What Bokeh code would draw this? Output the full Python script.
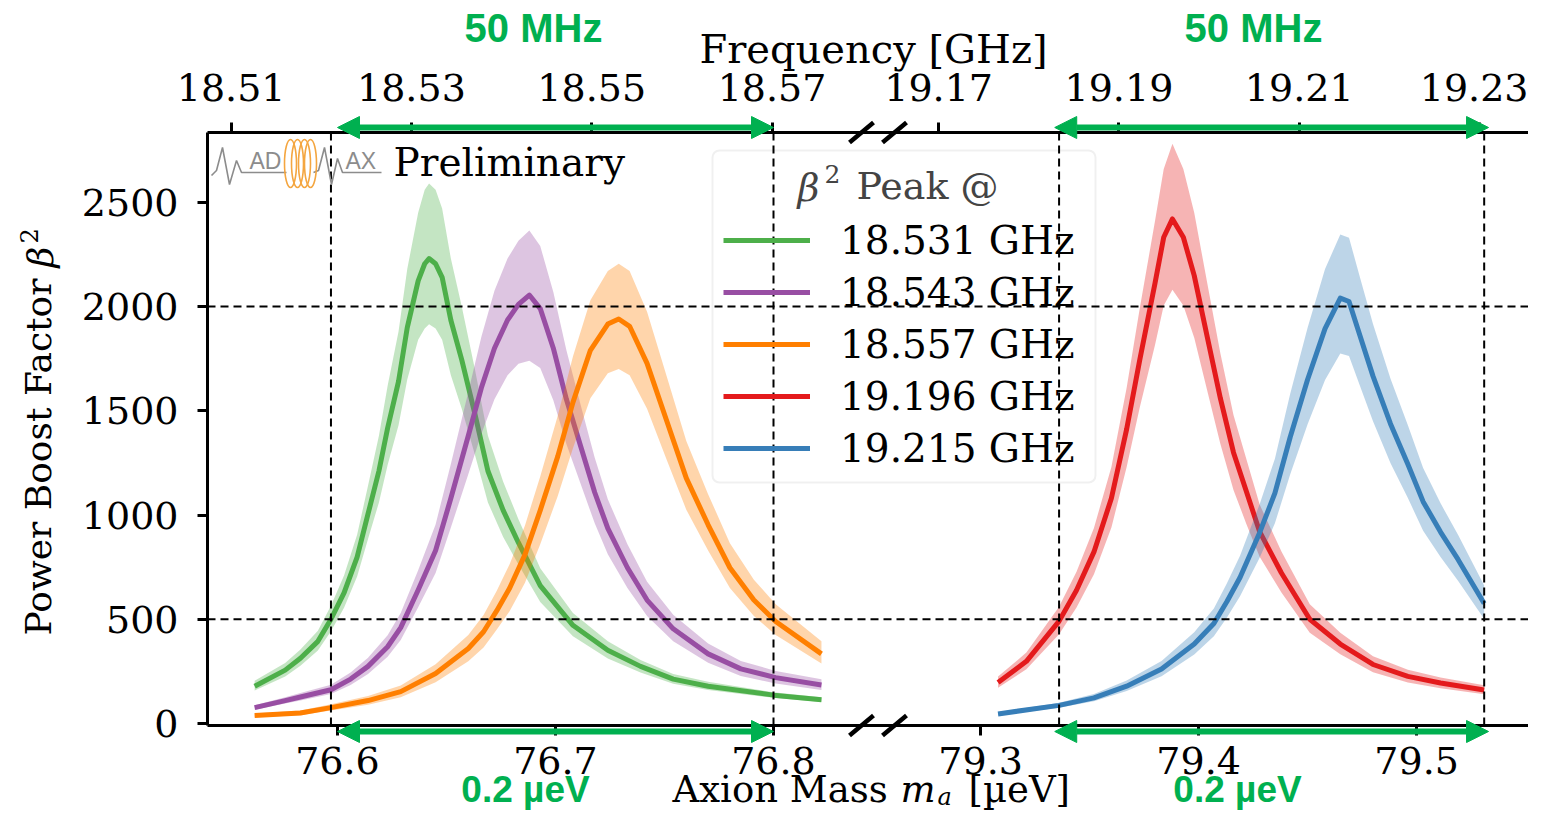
import math
from bokeh.plotting import figure
from bokeh.models import (Range1d, LinearAxis, FixedTicker, Arrow, NormalHead,
                          Label, Legend, LegendItem, BoxAnnotation)
from bokeh.embed import file_html
from bokeh.resources import INLINE

# ------------------------------------------------------------------ data
LABELS = ["18.531 GHz", "18.543 GHz", "18.557 GHz", "19.196 GHz", "19.215 GHz"]
COLORS = ["#4daf4a", "#984ea3", "#ff7f00", "#e41a1c", "#377eb8"]

GREEN_M = [76.562, 76.576, 76.583, 76.591, 76.597, 76.603, 76.609, 76.614, 76.619, 76.623,
           76.628, 76.632, 76.637, 76.640, 76.642, 76.645, 76.648, 76.652, 76.657, 76.663,
           76.669, 76.676, 76.683, 76.693, 76.708, 76.724, 76.739, 76.754, 76.770, 76.800,
           76.822]
GREEN_C = [179, 256, 313, 394, 500, 626, 798, 1005, 1211, 1417, 1641, 1899, 2123, 2205, 2230,
           2205, 2140, 1934, 1744, 1486, 1211, 1022, 867, 661, 471, 351, 274, 213, 179, 136,
           114]
GREEN_U = [205, 290, 355, 445, 565, 710, 905, 1140, 1380, 1620, 1880, 2180, 2450, 2560, 2590,
           2560, 2470, 2230, 2000, 1700, 1380, 1160, 980, 745, 530, 395, 305, 238, 200, 150,
           126]
GREEN_L = [158, 226, 277, 350, 443, 555, 705, 885, 1060, 1240, 1430, 1650, 1840, 1895, 1915,
           1895, 1840, 1670, 1510, 1290, 1060, 895, 762, 583, 418, 312, 245, 191, 161, 123,
           103]

PURPLE_M = [76.562, 76.576, 76.583, 76.597, 76.606, 76.614, 76.623, 76.629, 76.637, 76.645,
            76.652, 76.660, 76.666, 76.672, 76.678, 76.683, 76.688, 76.693, 76.699, 76.705,
            76.712, 76.718, 76.724, 76.733, 76.742, 76.754, 76.770, 76.785, 76.801, 76.822]
PURPLE_C = [76, 110, 127, 162, 213, 274, 368, 460, 640, 830, 1080, 1380, 1610, 1800, 1935,
            2010, 2055, 1990, 1800, 1555, 1314, 1108, 936, 747, 592, 454, 334, 262, 220, 185]
PURPLE_U = [88, 126, 146, 186, 245, 315, 423, 530, 735, 955, 1245, 1590, 1855, 2075, 2230,
            2315, 2365, 2290, 2070, 1790, 1510, 1275, 1075, 860, 680, 522, 384, 300, 252, 212]
PURPLE_L = [66, 96, 110, 141, 185, 238, 320, 400, 557, 722, 940, 1195, 1390, 1555, 1670,
            1725, 1740, 1705, 1550, 1340, 1135, 960, 812, 650, 515, 395, 291, 228, 192, 161]

ORANGE_M = [76.562, 76.583, 76.597, 76.614, 76.629, 76.645, 76.660, 76.667, 76.673, 76.679,
            76.686, 76.693, 76.701, 76.708, 76.716, 76.724, 76.729, 76.734, 76.742, 76.751,
            76.760, 76.770, 76.780, 76.791, 76.801, 76.822]
ORANGE_C = [38, 50, 76, 110, 153, 240, 360, 440, 540, 650, 810, 1022, 1280, 1540, 1790, 1916,
            1940, 1905, 1727, 1452, 1177, 953, 747, 592, 489, 334]
ORANGE_U = [48, 62, 92, 132, 182, 284, 425, 520, 635, 765, 950, 1185, 1475, 1760, 2030, 2170,
            2205, 2170, 1975, 1665, 1355, 1100, 865, 690, 572, 395]
ORANGE_L = [30, 40, 62, 90, 126, 198, 298, 365, 450, 540, 675, 860, 1090, 1320, 1560, 1680,
            1700, 1670, 1510, 1265, 1025, 830, 650, 515, 425, 288]

RED_M = [79.308, 79.321, 79.336, 79.344, 79.352, 79.360, 79.367, 79.373, 79.380, 79.384,
         79.388, 79.393, 79.398, 79.404, 79.410, 79.416, 79.422, 79.428, 79.438, 79.451,
         79.465, 79.480, 79.496, 79.511, 79.531]
RED_C = [197, 298, 491, 639, 823, 1080, 1412, 1743, 2111, 2332, 2420, 2332, 2148, 1853, 1559,
         1300, 1110, 920, 722, 500, 381, 283, 226, 194, 161]
RED_U = [225, 340, 560, 728, 938, 1230, 1610, 1990, 2410, 2660, 2780, 2660, 2450, 2110, 1775,
         1480, 1265, 1050, 825, 572, 435, 323, 258, 221, 184]
RED_L = [172, 260, 428, 556, 716, 940, 1230, 1515, 1815, 2005, 2080, 2005, 1850, 1595, 1340,
         1120, 955, 800, 628, 435, 332, 246, 197, 169, 140]

BLUE_M = [79.308, 79.336, 79.352, 79.367, 79.383, 79.398, 79.407, 79.413, 79.419, 79.428,
          79.435, 79.442, 79.450, 79.458, 79.465, 79.469, 79.474, 79.480, 79.488, 79.496,
          79.503, 79.511, 79.519, 79.531]
BLUE_C = [46, 87, 123, 179, 261, 381, 480, 585, 700, 915, 1105, 1373, 1650, 1894, 2040, 2024,
          1861, 1666, 1438, 1243, 1064, 918, 787, 576]
BLUE_U = [54, 100, 142, 206, 300, 438, 552, 673, 805, 1052, 1270, 1580, 1898, 2180, 2345, 2330,
          2140, 1916, 1655, 1430, 1225, 1056, 905, 662]
BLUE_L = [40, 76, 107, 156, 227, 331, 418, 508, 610, 795, 960, 1194, 1435, 1648, 1775, 1762,
          1620, 1450, 1250, 1081, 925, 798, 685, 501]

MASS_TICKS = [76.6, 76.7, 76.8, 79.3, 79.4, 79.5]
FREQ_TICKS = [18.51, 18.53, 18.55, 18.57, 19.17, 19.19, 19.21, 19.23]
Y_TICKS = [0, 500, 1000, 1500, 2000, 2500]
VLINES_M = [76.597, 76.800, 79.336, 79.531]
HLINES = [500, 2000]
ARROW_SPANS_M = [(76.600, 76.800), (79.334, 79.533)]

# ------------------------------------------------------------------ geometry helpers
GHZ_TO_UEV = 4.135667
BREAK_OFFSET = 2.405          # broken axis: right block shifted left


def to_u(m):
    return m - BREAK_OFFSET if m > 78 else m


W, H = 1528, 811
PXU = 2180.0
PXV = 0.2085
BOX_L, BOX_T, BOX_B = 207, 132, 725   # plot box (pixels)


def ux(px):
    return 76.6 + (px - 337) / PXU


def vy(py):
    return (723 - py) / PXV


p = figure(width=W, height=H, x_range=Range1d(ux(0), ux(W)), y_range=Range1d(vy(H), vy(0)),
           output_backend="svg", toolbar_location=None, tools="")
p.min_border_left = 0
p.min_border_right = 0
p.min_border_top = 0
p.min_border_bottom = 0
p.xgrid.visible = False
p.ygrid.visible = False
p.outline_line_color = None
p.background_fill_color = "white"
p.border_fill_color = "white"

SERIF = "DejaVu Serif"


def style_axis(ax, standoff):
    ax.axis_line_color = None
    ax.major_tick_line_width = 3
    ax.major_tick_line_color = "black"
    ax.major_tick_out = 10
    ax.major_tick_in = 0
    ax.minor_tick_out = 0
    ax.minor_tick_in = 0
    ax.major_label_text_font = SERIF
    ax.major_label_text_font_size = "38px"
    ax.major_label_text_color = "black"
    ax.major_label_standoff = standoff


bottom = p.xaxis[0]
bt = [to_u(m) for m in MASS_TICKS]
bottom.ticker = FixedTicker(ticks=bt, minor_ticks=[])
bottom.major_label_overrides = {u: f"{m:.1f}" for u, m in zip(bt, MASS_TICKS)}
bottom.fixed_location = vy(BOX_B)
style_axis(bottom, 11)

tt = [to_u(f * GHZ_TO_UEV) for f in FREQ_TICKS]
top = LinearAxis(ticker=FixedTicker(ticks=tt, minor_ticks=[]),
                 major_label_overrides={u: f"{f:.2f}" for u, f in zip(tt, FREQ_TICKS)},
                 fixed_location=vy(BOX_T))
style_axis(top, 22)
p.add_layout(top, "above")

left = p.yaxis[0]
left.ticker = FixedTicker(ticks=Y_TICKS, minor_ticks=[])
left.fixed_location = ux(BOX_L)
style_axis(left, 19)

# plot box lines (left, top, bottom)
p.segment(x0=[ux(BOX_L), ux(BOX_L), ux(BOX_L)], y0=[vy(BOX_B), vy(BOX_T), vy(BOX_B)],
          x1=[ux(BOX_L), ux(W), ux(W)], y1=[vy(BOX_T), vy(BOX_T), vy(BOX_B)],
          line_color="black", line_width=3)

# ------------------------------------------------------------------ legend frame (under everything)
box = BoxAnnotation(left=ux(712), right=ux(1095), top=vy(150), bottom=vy(482),
                    fill_color="white", fill_alpha=0.85, line_color="#cccccc",
                    line_width=2, border_radius=7, level="underlay")
p.add_layout(box)

# ------------------------------------------------------------------ curves
series = [
    (GREEN_M, GREEN_C, GREEN_U, GREEN_L),
    (PURPLE_M, PURPLE_C, PURPLE_U, PURPLE_L),
    (ORANGE_M, ORANGE_C, ORANGE_U, ORANGE_L),
    (RED_M, RED_C, RED_U, RED_L),
    (BLUE_M, BLUE_C, BLUE_U, BLUE_L),
]
items = []
for (M, C, U, L), col, lab in zip(series, COLORS, LABELS):
    xs = [to_u(m) for m in M]
    p.varea(x=xs, y1=L, y2=U, fill_color=col, fill_alpha=0.33)
    r = p.line(xs, C, line_color=col, line_width=5, line_join="round")
    items.append(LegendItem(label=lab, renderers=[r]))

# ------------------------------------------------------------------ dashed guide lines
vx = [to_u(m) for m in VLINES_M]
p.segment(x0=vx, y0=[vy(BOX_B)] * len(vx), x1=vx, y1=[vy(BOX_T)] * len(vx),
          line_color="black", line_width=2, line_dash="8 5")
p.segment(x0=[ux(BOX_L)] * len(HLINES), y0=HLINES, x1=[ux(W)] * len(HLINES), y1=HLINES,
          line_color="black", line_width=2, line_dash="8 5")

# ------------------------------------------------------------------ logo (decoration)
GRAY = "#8c8c8c"
wave_l = [(211, 175), (216, 170), (222, 147), (229, 184), (236, 160), (241, 172), (286, 172)]
wave_r = [(313, 172), (318, 170), (324, 147), (331, 184), (337, 158), (342, 172), (381, 172)]
for wv in (wave_l, wave_r):
    p.line([ux(a) for a, b in wv], [vy(b) for a, b in wv], line_color=GRAY, line_width=1.6)
p.ellipse(x=[ux(c) for c in (290, 297, 304, 310)], y=[vy(163)] * 4,
          width=12, height=48, width_units="screen", height_units="screen",
          fill_alpha=0, line_color="#f4a640", line_width=1.6)
for txt, xx in (("AD", 249), ("AX", 345)):
    p.add_layout(Label(x=ux(xx), y=vy(160), text=txt, text_font="Liberation Sans",
                       text_font_size="23px", text_color=GRAY, text_align="left",
                       text_baseline="middle"))
p.add_layout(Label(x=ux(393), y=vy(162), text="Preliminary", text_font=SERIF,
                   text_font_size="39px", text_color="black", text_align="left",
                   text_baseline="middle"))

# ------------------------------------------------------------------ legend
legend = Legend(items=items, location=(713, H - 482), orientation="vertical",
                padding=10, spacing=4, glyph_width=87, glyph_height=48, label_height=48,
                label_standoff=30, label_text_font=SERIF, label_text_font_size="39px",
                label_text_color="black", border_line_alpha=0, background_fill_alpha=0,
                margin=0)
p.add_layout(legend, "center")
p.add_layout(Label(x=ux(797), y=vy(187), text="β", text_font=SERIF, text_font_style="italic",
                   text_font_size="38px", text_align="left", text_baseline="middle"))
p.add_layout(Label(x=ux(824), y=vy(173), text="2", text_font=SERIF,
                   text_font_size="25px", text_align="left", text_baseline="middle"))
p.add_layout(Label(x=ux(856), y=vy(185), text="Peak @", text_font=SERIF,
                   text_font_size="38px", text_align="left", text_baseline="middle"))

# ------------------------------------------------------------------ green arrows & texts
GREEN = "#00b050"
for a, b in ARROW_SPANS_M:
    for yy in (vy(127), vy(731)):
        p.add_layout(Arrow(x_start=to_u(a), y_start=yy, x_end=to_u(b), y_end=yy,
                           line_color=GREEN, line_width=6,
                           start=NormalHead(size=22, fill_color=GREEN, line_color=GREEN),
                           end=NormalHead(size=22, fill_color=GREEN, line_color=GREEN)))
for txt, xx, yy in (("50 MHz", 533, 27), ("50 MHz", 1253, 27)):
    p.add_layout(Label(x=ux(xx), y=vy(yy), text=txt, text_font="Liberation Sans",
                       text_font_style="bold", text_font_size="40px", text_color=GREEN,
                       text_align="center", text_baseline="middle"))
for txt, xx, yy in (("0.2 µeV", 525, 789), ("0.2 µeV", 1237, 789)):
    p.add_layout(Label(x=ux(xx), y=vy(yy), text=txt, text_font="Liberation Sans",
                       text_font_style="bold", text_font_size="37px", text_color=GREEN,
                       text_align="center", text_baseline="middle"))

# ------------------------------------------------------------------ axis break marks
for cy in (BOX_T, BOX_B):
    for cx in (861, 894):
        p.add_layout(Arrow(x_start=ux(cx - 12), y_start=vy(cy + 10), x_end=ux(cx + 12),
                           y_end=vy(cy - 10), line_color="black", line_width=4.5,
                           start=None, end=None))

# ------------------------------------------------------------------ axis titles
p.add_layout(Label(x=ux(873), y=vy(48), text="Frequency [GHz]", text_font=SERIF,
                   text_font_size="40px", text_color="black", text_align="center",
                   text_baseline="middle"))
for txt, xx, yy, style, size in (("Axion Mass", 672, 789, "normal", "37px"),
                                 ("m", 900, 789, "italic", "37px"),
                                 ("a", 937, 796, "italic", "24px"),
                                 ("[µeV]", 968, 789, "normal", "37px")):
    p.add_layout(Label(x=ux(xx), y=vy(yy), text=txt, text_font=SERIF, text_font_style=style,
                       text_font_size=size, text_color="black", text_align="left",
                       text_baseline="middle"))
for txt, xx, yy, style, size in (("Power Boost Factor", 38, 635, "normal", "36px"),
                                 ("β", 40, 267, "italic", "36px"),
                                 ("2", 28, 243, "normal", "24px")):
    p.add_layout(Label(x=ux(xx), y=vy(yy), text=txt, text_font=SERIF, text_font_style=style,
                       text_font_size=size, text_color="black", text_align="left",
                       text_baseline="middle", angle=math.pi / 2))

open("out.html", "w").write(file_html(p, INLINE))
